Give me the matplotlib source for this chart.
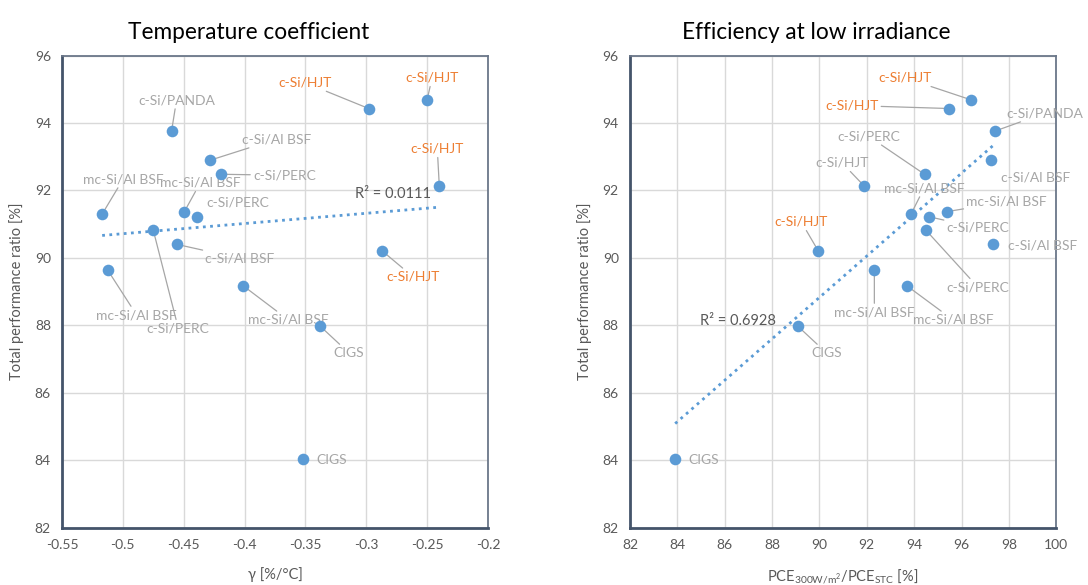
import numpy as np
import matplotlib.pyplot as plt

plt.rcParams['font.family'] = ['Lato', 'DejaVu Sans']
plt.rcParams['mathtext.fontset'] = 'custom'
plt.rcParams['mathtext.rm'] = 'Lato'

# data: one entry per module
names = ['c-Si/HJT', 'c-Si/HJT', 'c-Si/HJT', 'c-Si/HJT', 'c-Si/PANDA', 'c-Si/Al BSF',
         'c-Si/PERC', 'mc-Si/Al BSF', 'mc-Si/Al BSF', 'c-Si/PERC', 'c-Si/PERC',
         'c-Si/Al BSF', 'mc-Si/Al BSF', 'mc-Si/Al BSF', 'CIGS', 'CIGS']
gamma = [-0.298, -0.250, -0.240, -0.287, -0.460, -0.428, -0.419, -0.517, -0.4495,
         -0.439, -0.475, -0.4555, -0.5125, -0.401, -0.338, -0.352]
pce_ratio = [95.46, 96.39, 91.88, 89.95, 97.41, 97.26, 94.44, 93.87, 95.37,
             94.63, 94.50, 97.34, 92.32, 93.70, 89.08, 83.91]
perf_ratio = [94.43, 94.69, 92.14, 90.21, 93.76, 92.90, 92.48, 91.30, 91.37,
              91.22, 90.82, 90.40, 89.64, 89.17, 87.98, 84.05]
r2_gamma = 0.0111
r2_pce = 0.6928

# label layout (offsets in pixels)
left_offsets = [(-64, 26), (5, 22), (-2, 37), (31, -26), (5, 31), (66, 21), (63, -1),
                (21, 35), (16, 29), (41, 14), (25, -98), (63, -14), (29, -45),
                (45, -34), (29, -27), (29, -1)]
left_leader = [1, 1, 1, 1, 1, 1, 1, 1, 1, 0, 1, 1, 1, 1, 1, 0]
left_orange = {0, 1, 2, 3}
right_offsets = [(-97, 3), (-66, 22), (-22, 23), (-17, 29), (50, 18), (44, -17), (-56, 38),
                 (13, 26), (60, 10), (49, -11), (52, -57), (49, -1), (0, -42),
                 (46, -34), (29, -27), (29, -1)]
right_leader = [1, 1, 1, 1, 1, 0, 1, 1, 1, 1, 1, 0, 1, 1, 1, 0]
right_orange = {0, 1, 3}

BLUE = '#5B9BD5'
GREY = '#A6A6A6'
ORANGE = '#ED7D31'
DARK = '#595959'

fig = plt.figure(figsize=(10.88, 5.85), dpi=100)
ax1 = fig.add_axes([0.057, 0.098, 0.3915, 0.807])
ax2 = fig.add_axes([0.579, 0.098, 0.3918, 0.807])


def panel(ax, x, y, r2, offsets, leader, orange, title, xlabel, xlim, xticks, r2_pos):
    ax.scatter(x, y, s=70, color=BLUE, zorder=4, linewidths=0)
    for i, name in enumerate(names):
        kw = {}
        if leader[i]:
            kw['arrowprops'] = dict(arrowstyle='-', color=GREY, lw=0.9,
                                    shrinkA=0, shrinkB=0)
        ax.annotate(name, (x[i], y[i]), xytext=offsets[i], textcoords='offset pixels',
                    ha='center', va='center', fontsize=10,
                    color=ORANGE if i in orange else GREY, zorder=3, **kw)
    # linear trend
    xa = np.array(x)
    ya = np.array(y)
    k, b = np.polyfit(xa, ya, 1)
    xs = np.array([xa.min(), xa.max()])
    ax.plot(xs, k * xs + b, color=BLUE, lw=2, linestyle=(0, (1, 1.6)), zorder=2)
    ax.text(r2_pos[0], r2_pos[1], f'R² = {r2:.4f}', fontsize=10.5, color=DARK,
            ha='left', va='center')

    ax.set_xlim(*xlim)
    ax.set_ylim(82, 96)
    ax.set_xticks(xticks)
    ax.set_yticks(range(82, 97, 2))
    ax.grid(True, color='#D9D9D9', lw=1)
    ax.set_axisbelow(True)
    ax.tick_params(length=0, labelsize=10, labelcolor=DARK, pad=8)
    for s in ax.spines.values():
        s.set_color('#6B7789')
        s.set_linewidth(1.3)
    ax.spines['left'].set_color('#44546A')
    ax.spines['bottom'].set_color('#44546A')
    ax.spines['left'].set_linewidth(2)
    ax.spines['bottom'].set_linewidth(2)
    ax.set_title(title, fontsize=16.3, color='black', pad=12, x=0.438)
    ax.set_xlabel(xlabel, fontsize=10.5, color=DARK, labelpad=12)
    ax.set_ylabel('Total performance ratio [%]', fontsize=10.5, color=DARK, labelpad=8)


panel(ax1, gamma, perf_ratio, r2_gamma, left_offsets, left_leader, left_orange,
      'Temperature coefficient', 'γ [%/°C]', (-0.55, -0.2),
      [-0.55, -0.5, -0.45, -0.4, -0.35, -0.3, -0.25, -0.2], (-0.309, 91.9))
ax1.set_xticklabels(['-0.55', '-0.5', '-0.45', '-0.4', '-0.35', '-0.3', '-0.25', '-0.2'])

panel(ax2, pce_ratio, perf_ratio, r2_pce, right_offsets, right_leader, right_orange,
      'Efficiency at low irradiance',
      r'PCE$_{\mathregular{300W/m^2}}$/PCE$_{\mathregular{STC}}$ [%]',
      (82, 100), range(82, 101, 2), (84.95, 88.12))

fig.savefig('out.png', dpi=100)
